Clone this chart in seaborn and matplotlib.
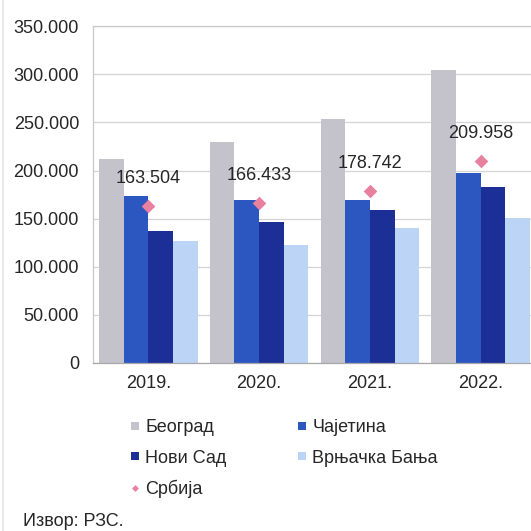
import matplotlib
matplotlib.use("Agg")
import matplotlib.pyplot as plt
from matplotlib.lines import Line2D
from matplotlib.ticker import FuncFormatter, FixedLocator
import numpy as np
import pandas as pd
import seaborn as sns

# Data
years = ["2019.", "2020.", "2021.", "2022."]
series_names = ["Београд", "Чајетина", "Нови Сад", "Врњачка Бања"]
beograd = [212500, 230000, 253500, 305000]
cajetina = [173500, 169000, 169500, 197000]
novi_sad = [137000, 146000, 159000, 183000]
vrnjacka_banja = [126500, 123000, 140000, 151000]
srbija = [163504, 166433, 178742, 209958]
srbija_label = "Србија"
source_text = "Извор: РЗС."

colors = ["#c4c3cc", "#2c57c0", "#1b2f96", "#bcd4f5"]
pink = "#e8809f"
text_color = "#262626"

sns.set_theme(style="white")
plt.rcParams["font.family"] = ["Liberation Sans", "DejaVu Sans"]

df = pd.DataFrame({
    "year": np.repeat(years, 4),
    "series": series_names * 4,
    "value": np.array([beograd, cajetina, novi_sad, vrnjacka_banja]).T.ravel(),
})

W = H = 531
fig = plt.figure(figsize=(W / 100, H / 100), dpi=100)
ax = fig.add_axes([93 / W, 168.3 / H, 443 / W, 336.3 / H])

sns.barplot(data=df, x="year", y="value", hue="series", order=years,
            hue_order=series_names, palette=colors, width=0.89,
            saturation=1, linewidth=0, ax=ax, legend=False, zorder=2)

x_pos = np.arange(len(years))
ax.scatter(x_pos, srbija, marker="D", s=48, color=pink, linewidths=0, zorder=4)
for xp, v in zip(x_pos, srbija):
    ax.annotate(f"{v:,.0f}".replace(",", "."), xy=(xp, v), xytext=(0, 19.5),
                textcoords="offset points", ha="center", va="center",
                fontsize=13, color=text_color, zorder=5)

ax.set_xlim(-0.5, 3.5)
ax.set_ylim(0, 350000)
ax.yaxis.set_major_locator(FixedLocator(np.arange(0, 350001, 50000)))
ax.yaxis.set_major_formatter(FuncFormatter(lambda v, p: f"{v:,.0f}".replace(",", ".")))
ax.set_xticks(x_pos)
ax.set_xticklabels(years)
ax.set_xticks(np.arange(-0.5, 3.6, 1.0), minor=True)
ax.tick_params(axis="x", which="major", length=0, pad=9, labelsize=13, labelcolor=text_color)
ax.tick_params(axis="x", which="minor", length=5, width=0.8, color="#a0a0a0", direction="out")
ax.tick_params(axis="y", length=0, pad=10, labelsize=13, labelcolor=text_color)
ax.set_xlabel("")
ax.set_ylabel("")

ax.grid(axis="y", color="#d4d4d4", linewidth=0.9, zorder=0)
ax.set_axisbelow(True)
for side, sp in ax.spines.items():
    sp.set_color("#c8c8c8")
    sp.set_linewidth(0.9)
ax.spines["bottom"].set_color("#a8a8a8")
ax.spines["right"].set_visible(False)

handles = {
    name: Line2D([], [], marker="s", linestyle="none", markersize=5.5,
                 markerfacecolor=c, markeredgewidth=0)
    for name, c in zip(series_names, colors)
}
handles[srbija_label] = Line2D([], [], marker="D", linestyle="none", markersize=3.5,
                               markerfacecolor=pink, markeredgewidth=0)
order = ["Београд", "Нови Сад", srbija_label, "Чајетина", "Врњачка Бања"]
fig.legend([handles[k] for k in order], order, ncol=2, loc="upper left",
           bbox_to_anchor=(120 / W, 1 - 410 / H), frameon=False, fontsize=13,
           handlelength=0.7, handletextpad=0.2, columnspacing=3.85,
           labelspacing=0.75, labelcolor=text_color, borderpad=0)

fig.text(23 / W, 1 - 521 / H, source_text, fontsize=13, color=text_color,
         ha="left", va="center")
fig.add_artist(Line2D([3 / W, 3 / W], [0, 1], color="#e4e4e4", linewidth=1.2))

fig.savefig("out.png", dpi=100)
